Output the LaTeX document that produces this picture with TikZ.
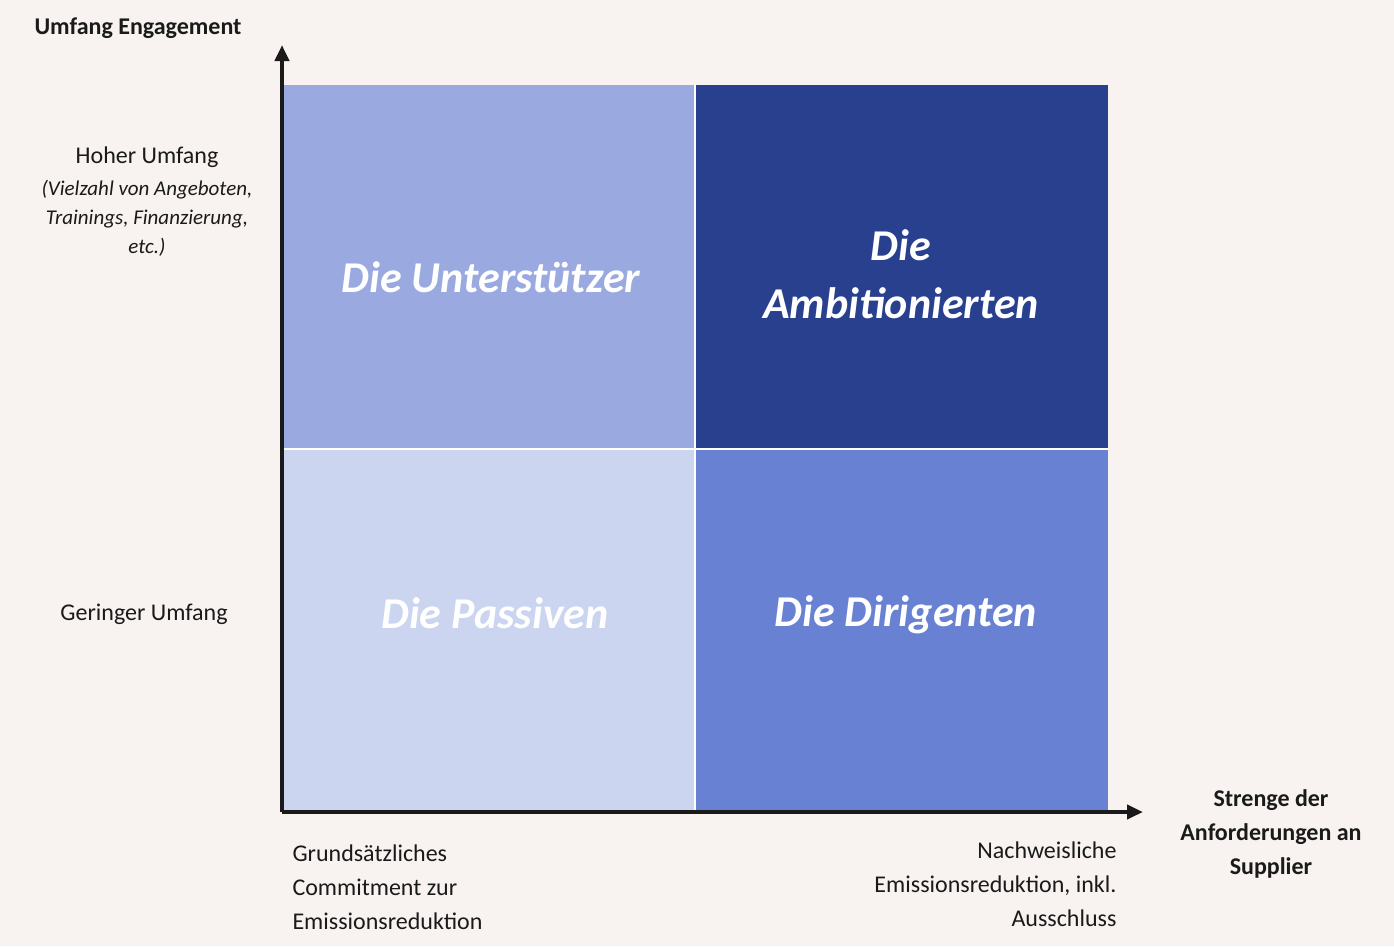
\documentclass[tikz,border=0pt]{standalone}
\usepackage{fontspec}
\setmainfont{Carlito}
\usetikzlibrary{arrows.meta}
\definecolor{bg}{HTML}{F8F3F0}
\definecolor{qa}{HTML}{9AAAE0}
\definecolor{qb}{HTML}{29408F}
\definecolor{qc}{HTML}{CBD5F0}
\definecolor{qd}{HTML}{6981D3}
\definecolor{ax}{HTML}{1A1A1A}
\tikzset{
 quad/.style={draw=white,line width=1.5pt},
 big/.style={text=white,font=\fontsize{44}{50}\selectfont\bfseries\itshape,align=center},
 lab/.style={text=ax,font=\fontsize{24}{34}\selectfont},
 axis/.style={ax,line width=4pt,-{Triangle[length=16pt,width=14pt]}}
}
\begin{document}
\begin{tikzpicture}[x=1pt,y=-1pt]
\fill[bg] (0,0) rectangle (1394,946);
\useasboundingbox (0,0) rectangle (1394,946);
\fill[qa] (283,85) rectangle (695,449);
\fill[qb] (695,85) rectangle (1108,449);
\fill[qc] (283,449) rectangle (695,810);
\fill[qd] (695,449) rectangle (1108,810);
\draw[white,line width=1.5pt] (695,85)--(695,810) (283,449)--(1108,449);
\node[big] (u) at (491,277) {Die Unterstützer};
\node[big] (a) at (901,274) {Die\\[8pt]Ambitionierten};
\node[big] (p) at (495,613) {Die Passiven};
\node[big] (d) at (906,615) {Die Dirigenten};
\coordinate (o) at (282,812);
\coordinate (yt) at (282,45);
\coordinate (xt) at (1143,812);
\draw[axis] (o)--(yt);
\draw[axis] (o)--(xt);
\node[lab,font=\fontsize{24}{30}\selectfont\bfseries] (ytitle) at (138,28) {Umfang Engagement};
\node[lab] (hoch) at (147,157) {Hoher Umfang};
\node[lab,font=\fontsize{21}{29}\selectfont\itshape,align=center] (hochd) at (147,218) {(Vielzahl von Angeboten,\\Trainings, Finanzierung,\\etc.)};
\node[lab] (ger) at (144,614) {Geringer Umfang};
\node[lab,font=\fontsize{24}{34}\selectfont\bfseries,align=center] (xtitle) at (1271,834) {Strenge der\\Anforderungen an\\Supplier};
\node[lab,align=left,anchor=north west] (gr) at (289,841) {Grundsätzliches\\Commitment zur\\Emissionsreduktion};
\node[lab,align=right,anchor=north east] (na) at (1120,838) {Nachweisliche\\Emissionsreduktion, inkl.\\Ausschluss};
\end{tikzpicture}
\end{document}
